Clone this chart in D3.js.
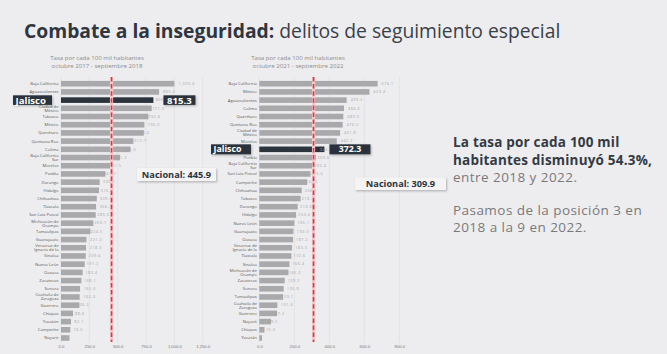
<!DOCTYPE html>
<html>
<head>
<meta charset="utf-8">
<script src="https://cdn.jsdelivr.net/npm/d3@7"></script>
<style>
  html, body { margin: 0; padding: 0; background: #ededef; }
  svg { display: block; font-family: "Open Sans", "Noto Sans", sans-serif; }
</style>
</head>
<body>
<div id="chart"></div>
<script>
// data
const states2018 = ['Baja California', 'Aguascalientes', 'Jalisco', 'Ciudad de\nMéxico', 'Tabasco', 'México',
  'Querétaro', 'Quintana Roo', 'Colima', 'Baja California\nSur', 'Morelos', 'Puebla', 'Durango', 'Hidalgo',
  'Chihuahua', 'Tlaxcala', 'San Luis Potosí', 'Michoacán de\nOcampo', 'Tamaulipas', 'Guanajuato',
  'Veracruz de\nIgnacio de la', 'Sinaloa', 'Nuevo León', 'Oaxaca', 'Zacatecas', 'Sonora', 'Coahuila de\nZaragoza',
  'Guerrero', 'Chiapas', 'Yucatán', 'Campeche', 'Nayarit'];
const values2018 = [1000.4, 865.2, 815.3, 800.1, 771.0, 735.6, 730.2, 638.4, 612.7, 521.3, 441.2, 391.5, 341.0,
  335.2, 315.8, 309.4, 306.1, 285.3, 259.7, 224.5, 221.0, 218.3, 209.6, 191.2, 180.4, 168.1, 165.0, 162.3,
  106.2, 88.4, 82.1, 74.5];

const states2022 = ['Baja California', 'México', 'Aguascalientes', 'Colima', 'Querétaro', 'Quintana Roo',
  'Ciudad de\nMéxico', 'Morelos', 'Jalisco', 'Puebla', 'Baja California\nSur', 'San Luis Potosí', 'Campeche',
  'Chihuahua', 'Tabasco', 'Durango', 'Hidalgo', 'Nuevo León', 'Guanajuato', 'Oaxaca', 'Veracruz de\nIgnacio de la',
  'Tlaxcala', 'Sinaloa', 'Michoacán de\nOcampo', 'Zacatecas', 'Sonora', 'Tamaulipas', 'Coahuila de\nZaragoza',
  'Guerrero', 'Nayarit', 'Chiapas', 'Yucatán'];
const values2022 = [676.1, 629.4, 499.2, 484.0, 480.3, 476.5, 461.8, 442.7, 372.3, 324.1, 309.6, 292.4, 273.0,
  242.5, 236.2, 219.7, 210.3, 200.4, 195.1, 193.0, 187.2, 183.5, 172.6, 166.4, 145.3, 139.2, 135.8, 103.1,
  101.4, 67.2, 29.5, 15.3];

const ticks2018 = [0, 250, 500, 750, 1000, 1250];
const ticks2022 = [0, 200, 400, 600, 800];
const nacional = [445.9, 309.9];
const periods = ['octubre 2017 - septiembre 2018', 'octubre 2021 - septiembre 2022'];

const W = 667, H = 354;
const svg = d3.select('#chart').append('svg')
  .attr('width', W)
  .attr('height', H);

svg.append('rect').attr('width', W).attr('height', H).attr('fill', '#ededef');

const defs = svg.append('defs');
const sh = defs.append('filter').attr('id', 'shadow').attr('x', '-10%').attr('y', '-30%').attr('width', '130%').attr('height', '180%');
sh.append('feDropShadow').attr('dx', 1).attr('dy', 1.2).attr('stdDeviation', 0.8).attr('flood-color', '#000').attr('flood-opacity', 0.25);

// title
const title = svg.append('text')
  .attr('x', 24)
  .attr('y', 38)
  .attr('fill', '#2f3640')
  .style('font-size', '19.3px');
title.append('tspan').attr('font-weight', 700).text('Combate a la inseguridad:');
title.append('tspan').attr('font-weight', 400).attr('fill', '#3a4048').text(' delitos de seguimiento especial');

const rowY = d3.scalePoint().domain(d3.range(32)).range([83.7, 338]);
const fmt = d3.format(',.1f');

function drawPanel(opts) {
  const { states, values, ticks, range, nac, period, jal } = opts;
  const x = d3.scaleLinear().domain([0, ticks[ticks.length - 1]]).range(range);
  const g = svg.append('g');

  // subtitle
  const cx = opts.subX;
  g.append('text').attr('x', cx).attr('y', 60).attr('text-anchor', 'middle')
    .attr('fill', '#8c8c8c').style('font-size', '6.1px').text('Tasa por cada 100 mil habitantes');
  g.append('text').attr('x', cx).attr('y', 68).attr('text-anchor', 'middle')
    .attr('fill', '#8c8c8c').style('font-size', '6.1px').text(period);

  // grid
  g.selectAll('.grid').data(ticks).enter().append('line')
    .attr('x1', d => x(d)).attr('x2', d => x(d))
    .attr('y1', 77).attr('y2', 343)
    .attr('stroke', '#dcdcde').attr('stroke-width', 0.6);

  // axis labels
  const axis = d3.axisBottom(x).tickValues(ticks).tickFormat(fmt).tickSize(0).tickPadding(0);
  const ax = g.append('g').attr('transform', 'translate(0,345.5)').call(axis);
  ax.select('.domain').remove();
  ax.selectAll('text').attr('fill', '#777').style('font-size', '4.2px').style('font-family', 'inherit');

  // bars
  const bh = 5.6;
  g.selectAll('.bar').data(values).enter().append('rect')
    .attr('x', x(0))
    .attr('y', (d, i) => rowY(i) - bh / 2)
    .attr('width', d => x(d) - x(0))
    .attr('height', bh)
    .attr('fill', (d, i) => i === jal ? '#2b333d' : '#a9a9ab');

  // state labels (Jalisco is covered by its own box)
  const lab = g.selectAll('.lab').data(states).enter().append('text')
    .filter((d, i) => i !== jal)
    .attr('text-anchor', 'end')
    .attr('fill', '#5a5a5a')
    .style('font-size', '4.2px');
  lab.each(function (d) {
    const i = states.indexOf(d);
    const parts = d.split('\n');
    const t = d3.select(this);
    parts.forEach((p, k) => {
      t.append('tspan').attr('x', x(0) - 2.5)
        .attr('y', rowY(i) + 1.4 + (k - (parts.length - 1) / 2) * 3.9)
        .text(p);
    });
  });

  // value labels
  g.selectAll('.val').data(values).enter().append('text')
    .filter((d, i) => i !== jal)
    .attr('x', d => x(d) + 4)
    .attr('y', (d, i) => rowY(i) + 1.3)
    .attr('fill', '#a0a0a0')
    .style('font-size', '3.6px')
    .style('letter-spacing', '0.6px')
    .text(d => fmt(d));

  // national reference line
  g.append('line')
    .attr('x1', x(nac)).attr('x2', x(nac))
    .attr('y1', 77).attr('y2', 342)
    .attr('stroke', '#f3c9cc').attr('stroke-width', 3.2);
  g.append('line')
    .attr('x1', x(nac)).attr('x2', x(nac))
    .attr('y1', 77).attr('y2', 342)
    .attr('stroke', '#d63a47').attr('stroke-width', 1.6)
    .attr('stroke-dasharray', '4.5,2.6');

  // Jalisco highlight
  const jy = rowY(jal);
  const jb = opts.jBox;
  g.append('rect').attr('x', jb[0]).attr('y', jy - jb[2] / 2).attr('width', jb[1]).attr('height', jb[2])
    .attr('fill', '#2b333d').attr('filter', 'url(#shadow)');
  g.append('text').attr('x', jb[0] + 2.5).attr('y', jy + jb[3] * 0.36)
    .attr('fill', '#fff').attr('font-weight', 700).style('font-size', jb[3] + 'px').text('Jalisco');
  const vb = opts.vBox;
  const vx = x(values[jal]) + vb[0];
  g.append('rect').attr('x', vx).attr('y', jy - jb[2] / 2).attr('width', vb[1]).attr('height', jb[2])
    .attr('fill', '#2b333d').attr('filter', 'url(#shadow)');
  g.append('text').attr('x', vx + vb[1] / 2).attr('y', jy + jb[3] * 0.36).attr('text-anchor', 'middle')
    .attr('fill', '#fff').attr('font-weight', 700).style('font-size', jb[3] + 'px').text(fmt(values[jal]));

  // Nacional box
  const nb = opts.nBox;
  g.append('rect').attr('x', nb[0]).attr('y', nb[1]).attr('width', nb[2]).attr('height', nb[3])
    .attr('fill', '#f4f4f5').attr('filter', 'url(#shadow)');
  g.append('text').attr('x', nb[0] + nb[2] / 2).attr('y', nb[1] + nb[3] / 2 + 3.2).attr('text-anchor', 'middle')
    .attr('fill', '#2b333d').attr('font-weight', 700).style('font-size', '9.2px')
    .text('Nacional: ' + fmt(nac));
}

drawPanel({
  states: states2018, values: values2018, ticks: ticks2018, range: [61, 202.7],
  nac: nacional[0], period: periods[0], jal: 2, subX: 97,
  jBox: [13, 39, 9.6, 9.6], vBox: [10, 32], nBox: [137, 168, 79, 13]
});
drawPanel({
  states: states2022, values: values2022, ticks: ticks2022, range: [259.3, 399.3],
  nac: nacional[1], period: periods[1], jal: 8, subX: 298,
  jBox: [211, 40, 10, 8.8], vBox: [5, 41], nBox: [355, 177.5, 91, 12.5]
});

// side note
const note = svg.append('g').attr('transform', 'translate(453,0)');
const lines = [
  { t: 'La tasa por cada 100 mil', y: 147, w: 700, c: '#343a44', ls: 0.2 },
  { t: 'habitantes disminuyó 54.3%,', y: 164.5, w: 700, c: '#343a44', ls: 0.2 },
  { t: 'entre 2018 y 2022.', y: 182, w: 400, c: '#7a7a7c', ls: 0.45 },
  { t: 'Pasamos de la posición 3 en', y: 215, w: 400, c: '#7a7a7c', ls: 0.45 },
  { t: '2018 a la 9 en 2022.', y: 232, w: 400, c: '#7a7a7c', ls: 0.45 }
];
note.selectAll('text').data(lines).enter().append('text')
  .attr('x', 0)
  .attr('y', d => d.y)
  .attr('fill', d => d.c)
  .attr('font-weight', d => d.w)
  .style('font-size', '13.5px')
  .style('letter-spacing', d => d.ls + 'px')
  .text(d => d.t);
</script>
</body>
</html>
